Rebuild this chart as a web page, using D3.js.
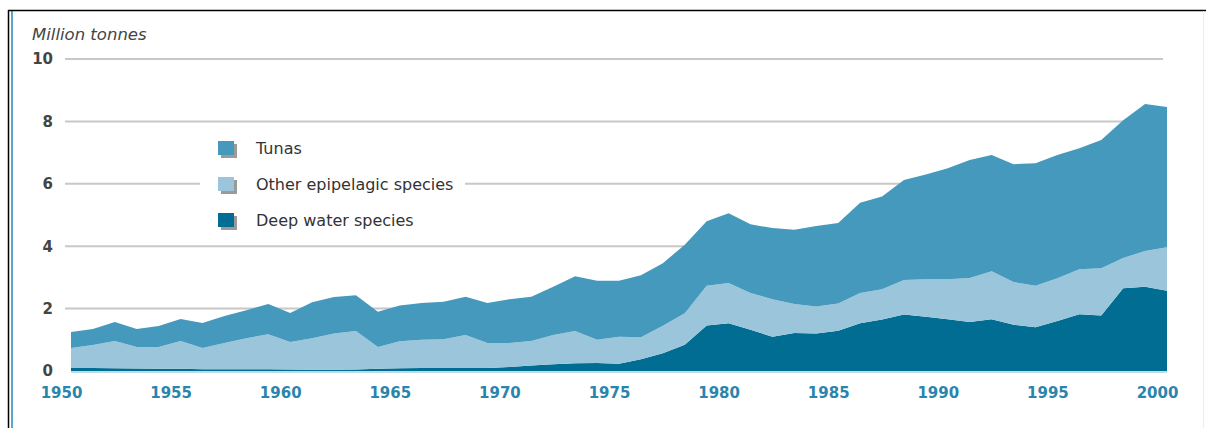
<!DOCTYPE html>
<html>
<head>
<meta charset="utf-8">
<script src="https://cdn.jsdelivr.net/npm/d3@7"></script>
<style>
  html, body { margin: 0; padding: 0; background: #ffffff; }
  svg { display: block; }
</style>
</head>
<body>
<svg id="chart" width="1206" height="428"></svg>
<script>
const years = d3.range(1950, 2001);
const deepWater = [0.10,0.10,0.09,0.08,0.07,0.07,0.06,0.06,0.06,0.06,
  0.05,0.04,0.04,0.05,0.07,0.09,0.10,0.10,0.10,0.10,
  0.13,0.18,0.22,0.25,0.26,0.23,0.38,0.57,0.84,1.46,
  1.53,1.32,1.10,1.22,1.20,1.29,1.53,1.65,1.81,1.74,
  1.66,1.57,1.66,1.48,1.40,1.60,1.82,1.78,2.65,2.70,2.57];
const otherEpipelagic = [0.64,0.73,0.87,0.69,0.70,0.89,0.68,0.84,0.99,1.12,
  0.88,1.01,1.16,1.23,0.70,0.86,0.90,0.92,1.05,0.80,
  0.77,0.78,0.93,1.03,0.74,0.87,0.70,0.88,1.01,1.27,
  1.29,1.18,1.20,0.93,0.87,0.87,0.97,0.97,1.11,1.20,
  1.28,1.41,1.54,1.37,1.33,1.37,1.44,1.51,0.97,1.15,1.40];
const tunas = [0.51,0.52,0.61,0.58,0.67,0.71,0.80,0.86,0.90,0.97,
  0.93,1.15,1.17,1.15,1.13,1.15,1.18,1.20,1.23,1.28,
  1.40,1.42,1.55,1.76,1.89,1.79,1.99,2.00,2.20,2.07,
  2.24,2.20,2.28,2.38,2.58,2.58,2.89,2.97,3.20,3.36,
  3.56,3.78,3.72,3.78,3.93,3.95,3.88,4.11,4.42,4.71,4.49];
const seriesNames = ["Deep water species", "Other epipelagic species", "Tunas"];
const seriesColors = ["#026d92", "#9bc5da", "#4599bc"];
const legendOrder = ["Tunas", "Other epipelagic species", "Deep water species"];
const yTicks = [0, 2, 4, 6, 8, 10];
const xTicks = [1950, 1955, 1960, 1965, 1970, 1975, 1980, 1985, 1990, 1995, 2000];
const yTitle = "Million tonnes";

const FONT = "'DejaVu Sans', 'Open Sans', sans-serif";
const svg = d3.select("#chart");

// frame lines
svg.append("line").attr("x1", 8.5).attr("x2", 8.5).attr("y1", 10).attr("y2", 428)
  .attr("stroke", "#000").attr("stroke-width", 1.5);
svg.append("line").attr("x1", 12).attr("x2", 12).attr("y1", 11).attr("y2", 428)
  .attr("stroke", "#5aa7cc").attr("stroke-width", 2);
svg.append("line").attr("x1", 8).attr("x2", 1206).attr("y1", 10.5).attr("y2", 10.5)
  .attr("stroke", "#000").attr("stroke-width", 1.5);
svg.append("line").attr("x1", 1203.5).attr("x2", 1203.5).attr("y1", 11).attr("y2", 428)
  .attr("stroke", "#e6eef2").attr("stroke-width", 1);

const x = d3.scaleLinear().domain([1950, 2000]).range([71, 1167]);
const y = d3.scaleLinear().domain([0, 10]).range([371, 59]);

// grid
svg.append("g").selectAll("line").data(yTicks.filter(d => d > 0)).join("line")
  .attr("x1", 65).attr("x2", 1163)
  .attr("y1", d => y(d)).attr("y2", d => y(d))
  .attr("stroke", "#c8c8c8").attr("stroke-width", 2);

// stacked areas
const table = years.map((yr, i) => ({
  year: yr,
  "Deep water species": deepWater[i],
  "Other epipelagic species": otherEpipelagic[i],
  "Tunas": tunas[i]
}));
const stack = d3.stack().keys(seriesNames)(table);
const area = d3.area()
  .x(d => x(d.data.year))
  .y0(d => y(d[0]))
  .y1(d => y(d[1]));
svg.append("g").selectAll("path").data(stack).join("path")
  .attr("d", area)
  .attr("fill", (d, i) => seriesColors[i]);

// baseline
svg.append("line").attr("x1", 71).attr("x2", 1167).attr("y1", 372).attr("y2", 372)
  .attr("stroke", "#a9cfe0").attr("stroke-width", 1.5);

// y axis labels
const yAxis = d3.axisLeft(y).tickValues(yTicks).tickSize(0).tickPadding(0).tickFormat(d3.format("d"));
const yg = svg.append("g").attr("transform", "translate(53,0)").call(yAxis);
yg.select(".domain").remove();
yg.selectAll("text")
  .attr("font-family", FONT)
  .attr("font-size", 15).attr("font-weight", "bold").attr("fill", "#444");

svg.append("text").attr("x", 32).attr("y", 40).text(yTitle)
  .attr("font-family", FONT)
  .attr("font-size", 16.5).attr("font-style", "italic").attr("fill", "#444");

// x axis labels (offset left of data position)
const xAxis = d3.axisBottom(x).tickValues(xTicks).tickSize(0).tickPadding(0).tickFormat(d3.format("d"));
const xg = svg.append("g").attr("transform", "translate(-10,387)").call(xAxis);
xg.select(".domain").remove();
xg.selectAll("text")
  .attr("font-family", FONT)
  .attr("font-size", 15).attr("font-weight", "bold").attr("fill", "#2a85ad");

// legend
const legend = svg.append("g");
legend.append("rect").attr("x", 200).attr("y", 132).attr("width", 265).attr("height", 102).attr("fill", "#fff");
const colorOf = name => seriesColors[seriesNames.indexOf(name)];
const li = legend.selectAll("g.item").data(legendOrder).join("g")
  .attr("class", "item")
  .attr("transform", (d, i) => `translate(218,${141 + i * 36})`);
li.append("rect").attr("x", 3).attr("y", 3).attr("width", 16).attr("height", 14).attr("fill", "#9a9a9a");
li.append("rect").attr("x", 0).attr("y", 0).attr("width", 16).attr("height", 14).attr("fill", d => colorOf(d));
li.append("text").attr("x", 38).attr("y", 13).text(d => d)
  .attr("font-family", FONT)
  .attr("font-size", 16).attr("fill", "#333");
</script>
</body>
</html>
